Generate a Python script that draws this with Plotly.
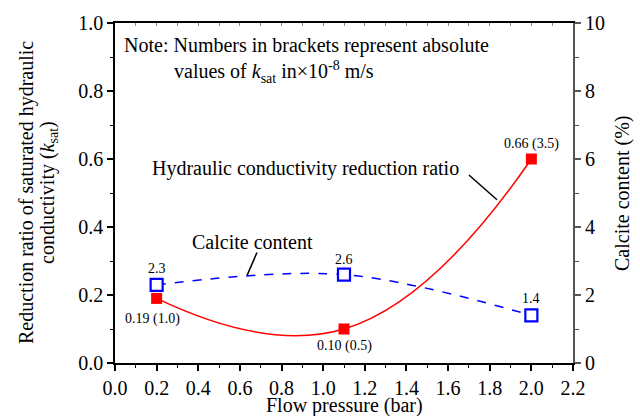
import plotly.graph_objects as go

pressure = [0.2, 1.1, 2.0]
reduction_ratio = [0.19, 0.10, 0.60]
calcite = [2.3, 2.6, 1.4]
ratio_labels = ["0.19 (1.0)", "0.10 (0.5)", "0.66 (3.5)"]
calcite_labels = ["2.3", "2.6", "1.4"]

FONT = "Liberation Serif"

fig = go.Figure()
fig.add_trace(go.Scatter(
    x=pressure, y=reduction_ratio, mode="lines+markers",
    line=dict(color="#ff0000", width=1.5, shape="spline", smoothing=1.3),
    marker=dict(symbol="square", size=11, color="#ff0000", line=dict(width=0)),
    showlegend=False, yaxis="y"))
fig.add_trace(go.Scatter(
    x=pressure, y=calcite, mode="lines+markers",
    line=dict(color="#0000ff", width=1.5, dash="dash", shape="spline"),
    marker=dict(symbol="square", size=12, color="white", line=dict(color="#0000ff", width=2.2)),
    showlegend=False, yaxis="y2"))

ann = []
ratio_offsets = [(-4, -21), (0, -17), (0, 15)]
for xv, yv, t, (dx, dy) in zip(pressure, reduction_ratio, ratio_labels, ratio_offsets):
    ann.append(dict(x=xv, y=yv, xref="x", yref="y", text=t, showarrow=False,
                    xshift=dx, yshift=dy, font=dict(size=14, color="black", family=FONT)))
cal_offsets = [(0, 16), (0, 15), (0, 17)]
for xv, yv, t, (dx, dy) in zip(pressure, calcite, calcite_labels, cal_offsets):
    ann.append(dict(x=xv, y=yv, xref="x", yref="y2", text=t, showarrow=False,
                    xshift=dx, yshift=dy, font=dict(size=14, color="black", family=FONT)))

ann += [
    dict(x=0.0, y=0.935, xref="x", yref="y", xanchor="left", xshift=7,
         text="Note: Numbers in brackets represent absolute", showarrow=False,
         font=dict(size=20, color="black", family=FONT)),
    dict(x=0.0, y=0.855, xref="x", yref="y", xanchor="left", xshift=57,
         text="values of <i>k</i><sub>sat</sub> in×10<sup>-8</sup> m/s", showarrow=False,
         font=dict(size=20, color="black", family=FONT)),
    dict(x=0.915, y=0.573, xref="x", yref="y", text="Hydraulic conductivity reduction ratio",
         showarrow=False, font=dict(size=20, color="black", family=FONT)),
    dict(x=0.66, y=0.357, xref="x", yref="y", text="Calcite content",
         showarrow=False, font=dict(size=20, color="black", family=FONT)),
    dict(x=0.5, y=0, xref="paper", yref="paper", yanchor="top", yshift=-29,
         text="Flow pressure (bar)", showarrow=False,
         font=dict(size=20, color="black", family=FONT)),
    dict(x=0, y=0.5, xref="paper", yref="paper", xanchor="center", yanchor="middle",
         xshift=-89, textangle=-90,
         text="Reduction ratio of saturated hydraulic", showarrow=False,
         font=dict(size=20, color="black", family=FONT)),
    dict(x=0, y=0.5, xref="paper", yref="paper", xanchor="center", yanchor="middle",
         xshift=-67, textangle=-90,
         text="conductivity (<i>k</i><sub>sat</sub>)", showarrow=False,
         font=dict(size=20, color="black", family=FONT)),
    dict(x=1, y=0.5, xref="paper", yref="paper", xanchor="center", yanchor="middle",
         xshift=49, textangle=-90,
         text="Calcite content (%)", showarrow=False,
         font=dict(size=20, color="black", family=FONT)),
]

shapes = [
    dict(type="line", xref="x", yref="y", x0=1.700, y0=0.553, x1=1.835, y1=0.480,
         line=dict(color="black", width=1.5)),
    dict(type="line", xref="x", yref="y", x0=0.682, y0=0.325, x1=0.634, y1=0.257,
         line=dict(color="black", width=1.5)),
]

tickfont = dict(size=20, color="black", family=FONT)
fig.update_layout(
    width=640, height=416,
    margin=dict(l=115, r=67, t=21, b=53),
    paper_bgcolor="white", plot_bgcolor="white",
    font=dict(family=FONT, color="black"),
    annotations=ann, shapes=shapes,
    xaxis=dict(range=[0, 2.2], dtick=0.2, tickformat=".1f", ticks="outside", ticklen=6,
               tickwidth=1.5, tickcolor="black", showline=True, linecolor="black", linewidth=1.5,
               showgrid=False, zeroline=False, tickfont=tickfont,
               minor=dict(dtick=0.1, ticks="outside", ticklen=3.5, tickcolor="black", tickwidth=1.2)),
    xaxis2=dict(range=[0, 2.2], overlaying="x", side="top", anchor="y", dtick=0.1,
                ticks="inside", ticklen=3, tickcolor="#888", showticklabels=False,
                showline=True, linecolor="black", linewidth=1.5, showgrid=False, zeroline=False),
    yaxis=dict(range=[0, 1.0], dtick=0.2, tickformat=".1f", ticks="outside", ticklen=6,
               tickwidth=1.5, tickcolor="black", showline=True, linecolor="black", linewidth=1.5,
               showgrid=False, zeroline=False, tickfont=tickfont,
               minor=dict(dtick=0.1, ticks="outside", ticklen=3.5, tickcolor="black", tickwidth=1.2)),
    yaxis2=dict(range=[0, 10], dtick=2, overlaying="y", side="right", anchor="x",
                ticks="outside", ticklen=6, tickwidth=1.5, tickcolor="#555",
                showline=True, linecolor="#555", linewidth=2.2,
                showgrid=False, zeroline=False, tickfont=tickfont,
                minor=dict(dtick=1, ticks="outside", ticklen=3.5, tickcolor="#555", tickwidth=1.2)),
)
fig.add_trace(go.Scatter(x=[None], y=[None], xaxis="x2", yaxis="y", showlegend=False, hoverinfo="skip"))

fig.write_html("out.html")
